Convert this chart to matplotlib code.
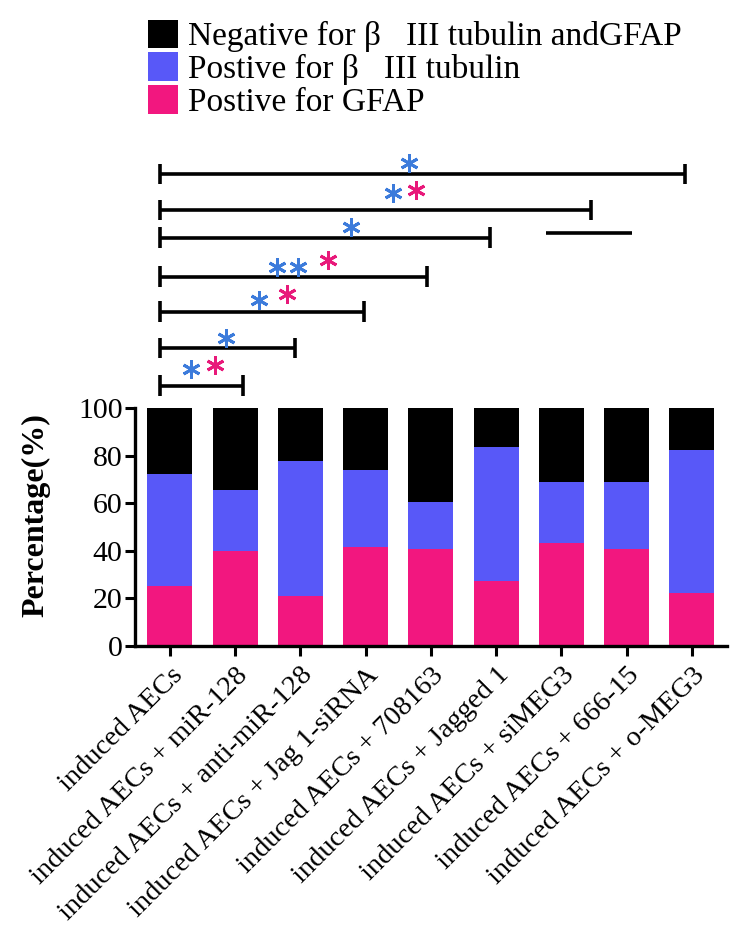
import numpy as np
import matplotlib
matplotlib.use("Agg")
import matplotlib.pyplot as plt
from matplotlib.patches import Patch

plt.rcParams['font.family'] = ['Liberation Serif', 'DejaVu Serif']

groups = ["induced AECs", "induced AECs + miR-128", "induced AECs + anti-miR-128",
          "induced AECs + Jag 1-siRNA", "induced AECs + 708163", "induced AECs + Jagged 1",
          "induced AECs + siMEG3", "induced AECs + 666-15", "induced AECs + o-MEG3"]
gfap = [25.2, 40.0, 21.0, 41.7, 40.7, 27.5, 43.1, 40.7, 22.3]
tubulin = [46.9, 25.6, 56.9, 32.1, 19.9, 56.0, 25.9, 28.3, 60.0]
negative = [27.9, 34.4, 22.1, 26.2, 39.4, 16.5, 31.0, 31.0, 17.7]
series_names = ["Negative for β   III tubulin andGFAP", "Postive for β   III tubulin", "Postive for GFAP"]

# comparison brackets: (x start, x end, y)
brackets = [(-0.15, 7.89, 198.3), (-0.15, 6.45, 183.2), (-0.15, 4.91, 171.6),
            (-0.15, 3.94, 155.2), (-0.15, 2.97, 140.5), (-0.15, 1.92, 125.1),
            (-0.15, 1.12, 109.4)]
stray_line = (5.76, 7.09, 173.7)
# significance stars: (x, y, kind)
stars = [(3.66, 203.1, 'b'), (3.42, 190.5, 'b'), (3.77, 191.6, 'p'), (2.77, 176.1, 'b'),
         (1.64, 159.4, 'b'), (1.96, 159.4, 'b'), (2.42, 162.2, 'p'),
         (1.36, 145.4, 'b'), (1.79, 147.9, 'p'), (0.86, 129.4, 'b'),
         (0.32, 116.4, 'b'), (0.69, 118.1, 'p')]

c_black = '#000000'
c_blue = '#5858F8'
c_pink = '#F2177F'
star_col = {'b': '#3C7BDB', 'p': '#E8197A'}

fig = plt.figure(figsize=(7.39, 9.36), dpi=100)
ax = fig.add_axes([0.1827, 0.3098, 0.801, 0.2543])

x = np.arange(len(groups))
g = np.array(gfap)
t = np.array(tubulin)
n = np.array(negative)
w = 0.69
ax.bar(x, g, w, color=c_pink)
ax.bar(x, t, w, bottom=g, color=c_blue)
ax.bar(x, n, w, bottom=g + t, color=c_black)

ax.set_xlim(-0.536, 8.54)
ax.set_ylim(0, 100)
ax.set_yticks([0, 20, 40, 60, 80, 100])
ax.set_xticks(x)
ax.set_xticklabels(groups, rotation=45, ha='right', rotation_mode='anchor', fontsize=20.5)
ax.tick_params(axis='y', labelsize=21.5, width=2.2, length=7, pad=2)
ax.tick_params(axis='x', width=2.2, length=7, pad=5)
for s in ['top', 'right']:
    ax.spines[s].set_visible(False)
for s in ['left', 'bottom']:
    ax.spines[s].set_linewidth(2.4)
ax.set_ylabel("Percentage(%)", fontsize=23, fontweight='bold')
ax.yaxis.set_label_coords(-0.1436, 0.55)

for x0, x1, y in brackets:
    ax.plot([x0, x1], [y, y], color='black', lw=2.6, clip_on=False, solid_capstyle='butt')
    for xe in (x0, x1):
        ax.plot([xe, xe], [y - 4.3, y + 4.3], color='black', lw=2.6, clip_on=False,
                solid_capstyle='butt')
ax.plot([stray_line[0], stray_line[1]], [stray_line[2]] * 2, color='black', lw=2.6,
        clip_on=False, solid_capstyle='butt')
for sx, sy, k in stars:
    ax.plot(sx, sy, marker=(6, 2, 0), ms=13, mew=2.1, color=star_col[k], clip_on=False,
            linestyle='none')

handles = [Patch(facecolor=c_black), Patch(facecolor=c_blue), Patch(facecolor=c_pink)]
fig.legend(handles, series_names, loc='upper left', bbox_to_anchor=(0.2, 0.979),
           frameon=False, fontsize=24, handlelength=0.9, handleheight=0.95,
           handletextpad=0.3, labelspacing=0.0, borderaxespad=0, borderpad=0)

fig.savefig("out.png", dpi=100)
